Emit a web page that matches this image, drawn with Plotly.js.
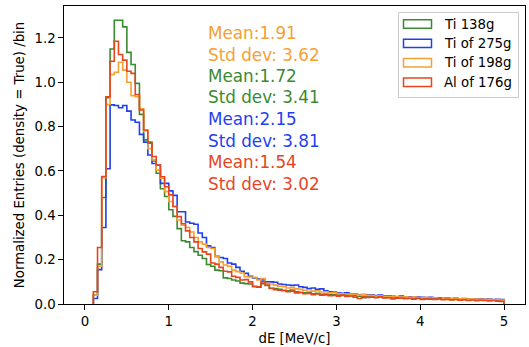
<!DOCTYPE html>
<html><head><meta charset="utf-8">
<script src="https://cdn.plot.ly/plotly-3.0.1.min.js"></script>
<style>html,body{margin:0;padding:0;background:#fff}#chart{width:529px;height:347px}</style>
</head><body><div id="chart"></div>
<script>
// histogram binning (dE in MeV/c): first non-empty bin starts at 0.1, width 0.05
const binStart = 0.1;
const binWidth = 0.05;

const seriesNames = ["Ti 138g", "Ti of 275g", "Ti of 198g", "Al of 176g"];
const seriesColors = ["#3a8a2f", "#1f3ff0", "#f5a033", "#e8451f"];

const ti138 = [0.04,0.18,0.48,0.93,1.15,1.28,1.28,1.25,1.135,1.08,
 0.995,0.855,0.74,0.73,0.645,0.59,0.52,0.485,0.425,0.395,
 0.34,0.285,0.28,0.255,0.236,0.22,0.205,0.178,0.17,0.153,
 0.15,0.118,0.115,0.108,0.104,0.094,0.092,0.09,0.078,0.076,
 0.092,0.084,0.071,0.07,0.066,0.062,0.06,0.063,0.055,0.052,
 0.05,0.053,0.046,0.048,0.044,0.045,0.041,0.043,0.04,0.038,
 0.04,0.036,0.038,0.035,0.028,0.034,0.033,0.031,0.033,0.029,
 0.03,0.028,0.031,0.027,0.029,0.026,0.027,0.025,0.026,0.024,
 0.025,0.023,0.024,0.022,0.023,0.021,0.022,0.02,0.021,0.019,
 0.02,0.019,0.018,0.019,0.017,0.018,0.016,0.015];

const ti275 = [0.025,0.155,0.345,0.61,0.898,0.895,0.885,0.895,0.87,0.83,
 0.82,0.765,0.73,0.672,0.634,0.627,0.544,0.544,0.51,0.49,
 0.416,0.416,0.37,0.364,0.36,0.32,0.30,0.262,0.255,0.215,
 0.21,0.205,0.185,0.18,0.165,0.148,0.138,0.125,0.118,0.112,
 0.108,0.10,0.10,0.098,0.09,0.088,0.086,0.084,0.086,0.078,
 0.075,0.07,0.072,0.066,0.068,0.06,0.055,0.054,0.05,0.048,
 0.05,0.044,0.045,0.042,0.043,0.04,0.041,0.038,0.04,0.036,
 0.037,0.035,0.033,0.036,0.032,0.033,0.03,0.031,0.03,0.029,
 0.03,0.027,0.028,0.026,0.027,0.025,0.026,0.024,0.025,0.023,
 0.024,0.022,0.023,0.021,0.022,0.02,0.021,0.02];

const ti198 = [0.04,0.17,0.57,0.90,1.035,1.045,1.09,1.055,1.00,0.94,
 0.935,0.88,0.78,0.70,0.65,0.604,0.567,0.507,0.462,0.44,
 0.379,0.355,0.345,0.325,0.30,0.28,0.27,0.255,0.25,0.213,
 0.19,0.176,0.17,0.153,0.146,0.14,0.123,0.122,0.12,0.108,
 0.115,0.093,0.09,0.085,0.08,0.078,0.072,0.074,0.068,0.066,
 0.062,0.064,0.058,0.06,0.054,0.055,0.05,0.052,0.047,0.046,
 0.045,0.042,0.044,0.04,0.041,0.038,0.039,0.036,0.037,0.034,
 0.035,0.033,0.034,0.031,0.032,0.03,0.031,0.029,0.028,0.029,
 0.027,0.028,0.026,0.025,0.026,0.024,0.025,0.023,0.024,0.022,
 0.023,0.021,0.022,0.02,0.021,0.019,0.02,0.018];

const al176 = [0.055,0.255,0.575,0.935,1.095,1.185,1.125,1.10,1.05,1.04,
 0.945,0.875,0.785,0.725,0.665,0.627,0.574,0.529,0.492,0.44,
 0.394,0.362,0.33,0.30,0.28,0.25,0.235,0.225,0.185,0.18,
 0.165,0.148,0.145,0.125,0.12,0.108,0.11,0.10,0.08,0.078,
 0.10,0.085,0.07,0.065,0.062,0.06,0.055,0.058,0.05,0.052,
 0.046,0.048,0.042,0.045,0.04,0.041,0.037,0.039,0.035,0.04,
 0.034,0.036,0.031,0.025,0.033,0.03,0.031,0.028,0.032,0.027,
 0.028,0.023,0.026,0.027,0.024,0.025,0.022,0.026,0.02,0.023,
 0.022,0.02,0.023,0.019,0.021,0.018,0.02,0.017,0.019,0.016,
 0.018,0.015,0.017,0.016,0.014,0.016,0.013,0.011];

const seriesValues = [ti138, ti275, ti198, al176];

// statistics text (drawn in order, top to bottom)
const statLabels = ["Mean:1.91", "Std dev: 3.62", "Mean:1.72", "Std dev: 3.41",
                    "Mean:2.15", "Std dev: 3.81", "Mean:1.54", "Std dev: 3.02"];
const statSeries = [2, 2, 0, 0, 1, 1, 3, 3];

const xTicks = [0, 1, 2, 3, 4, 5];
const yTicks = [0, 0.2, 0.4, 0.6, 0.8, 1.0, 1.2];

const FONT = "DejaVu Sans, Liberation Sans, sans-serif";

function stepXY(vals) {
  const x = [binStart], y = [0];
  for (let i = 0; i < vals.length; i++) {
    x.push(binStart + i * binWidth);
    y.push(vals[i]);
  }
  x.push(binStart + vals.length * binWidth);
  y.push(0);
  return {x, y};
}

const traces = seriesValues.map((vals, i) => {
  const s = stepXY(vals);
  return {
    type: "scatter", mode: "lines", x: s.x, y: s.y, name: seriesNames[i],
    line: {shape: "hv", color: seriesColors[i], width: 1.6},
    showlegend: false, hoverinfo: "skip"
  };
});

// layout geometry
const W = 529, H = 347, mL = 64, mR = 4, mT = 6, mB = 43;
const pw = W - mL - mR, ph = H - mT - mB;
const px2x = p => (p - mL) / pw;
const py2y = p => (H - mB - p) / ph;

const annotations = [];
const shapes = [];

// statistics annotations
const statTop = 33, statStep = 21.5;
statLabels.forEach((t, i) => {
  annotations.push({
    xref: "paper", yref: "paper", x: px2x(206), y: py2y(statTop + i * statStep),
    xanchor: "left", yanchor: "middle", showarrow: false, text: t,
    font: {family: FONT, size: 16.8, color: seriesColors[statSeries[i]]}
  });
});

// legend (matplotlib style)
shapes.push({type: "rect", xref: "paper", yref: "paper",
  x0: px2x(398.5), x1: px2x(518.5), y0: py2y(97.5), y1: py2y(12.5),
  line: {color: "#cccccc", width: 1}, fillcolor: "rgba(255,255,255,0.8)", layer: "above"});
const legRow0 = 24, legStep = 19.4;
seriesNames.forEach((n, i) => {
  const cy = legRow0 + i * legStep;
  shapes.push({type: "rect", xref: "paper", yref: "paper",
    x0: px2x(403.5), x1: px2x(431.5), y0: py2y(cy + 4.2), y1: py2y(cy - 4.2),
    line: {color: seriesColors[i], width: 1.5}, fillcolor: "rgba(0,0,0,0)", layer: "above"});
  annotations.push({xref: "paper", yref: "paper", x: px2x(442), y: py2y(cy),
    xanchor: "left", yanchor: "middle", showarrow: false, text: n,
    font: {family: FONT, size: 13.3, color: "#000"}});
});

const layout = {
  width: W, height: H,
  margin: {l: mL, r: mR, t: mT, b: mB, pad: 0},
  paper_bgcolor: "#fff", plot_bgcolor: "#fff",
  font: {family: FONT, size: 13.3, color: "#000"},
  showlegend: false,
  xaxis: {
    range: [-0.25, 5.25], tickvals: xTicks, ticktext: xTicks.map(String),
    ticks: "outside", ticklen: 4.7, tickwidth: 1, tickcolor: "#000",
    showline: true, mirror: true, linecolor: "#000", linewidth: 1,
    showgrid: false, zeroline: false,
    title: {text: "dE [MeV/c]", font: {family: FONT, size: 13.3}, standoff: 6}
  },
  yaxis: {
    range: [0, 1.344], tickvals: yTicks, ticktext: yTicks.map(v => v.toFixed(1)),
    ticks: "outside", ticklen: 4.7, tickwidth: 1, tickcolor: "#000",
    showline: true, mirror: true, linecolor: "#000", linewidth: 1,
    showgrid: false, zeroline: false,
    title: {text: "Normalized Entries (density = True) /bin", font: {family: FONT, size: 13.3}, standoff: 6}
  },
  annotations: annotations,
  shapes: shapes
};

Plotly.newPlot("chart", traces, layout, {displayModeBar: false, staticPlot: true});
</script>
</body></html>
